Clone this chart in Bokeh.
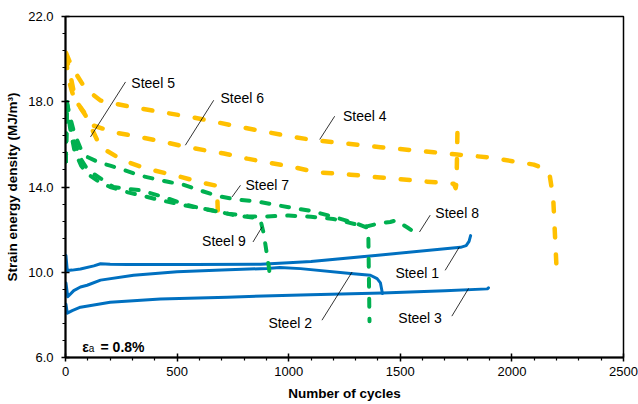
from bokeh.plotting import figure
from bokeh.models import FixedTicker, NumeralTickFormatter, Range1d
from bokeh.core.properties import value
from bokeh.embed import file_html
from bokeh.resources import INLINE

FONT = "Liberation Sans"

# ---------------- data ----------------
x_ticks = [0, 500, 1000, 1500, 2000, 2500]
x_minor = [100, 200, 300, 400, 600, 700, 800, 900, 1100, 1200, 1300, 1400,
           1600, 1700, 1800, 1900, 2100, 2200, 2300, 2400]
y_ticks = [6, 10, 14, 18, 22]
y_minor = [6.8, 7.6, 8.4, 9.2, 10.8, 11.6, 12.4, 13.2, 14.8, 15.6, 16.4, 17.2,
           18.8, 19.6, 20.4, 21.2]

steel1_x = [2, 8, 30, 67, 127, 157, 200, 276, 575, 874, 1000, 1100, 1400, 1770, 1795, 1808, 1815]
steel1_y = [10.78, 10.08, 10.1, 10.15, 10.3, 10.4, 10.37, 10.36, 10.36, 10.38, 10.44, 10.5, 10.8, 11.17, 11.25, 11.45, 11.72]

steel2_x = [2, 10, 37, 67, 97, 157, 305, 500, 700, 903, 960, 1053, 1277, 1366, 1396, 1411, 1420]
steel2_y = [9.5, 8.85, 9.14, 9.31, 9.39, 9.63, 9.86, 10.02, 10.1, 10.18, 10.22, 10.17, 9.94, 9.86, 9.7, 9.5, 9.0]

steel3_x = [2, 8, 30, 67, 200, 425, 725, 1097, 1420, 1700, 1890, 1895]
steel3_y = [8.5, 8.08, 8.2, 8.36, 8.59, 8.75, 8.83, 8.95, 9.03, 9.13, 9.22, 9.27]

steel4_x = [2, 30, 90, 157, 200, 336, 568, 792, 1022, 1128, 1411, 1650, 1755, 1889, 2098, 2150, 2170, 2185, 2200]
steel4_y = [20.3, 19.6, 18.6, 18.06, 17.95, 17.68, 17.27, 16.8, 16.34, 16.18, 15.87, 15.63, 15.52, 15.4, 15.05, 14.85, 14.5, 13.5, 10.2]

steel5_x = [2, 15, 37, 90, 157, 260, 366, 493, 605, 672, 680, 684]
steel5_y = [20.0, 19.0, 18.2, 17.35, 15.87, 15.24, 14.85, 14.54, 14.22, 14.07, 13.6, 12.33]

steel6_x = [2, 15, 45, 126, 216, 336, 448, 545, 710, 814, 1022, 1120, 1277, 1396, 1620, 1740, 1748, 1752, 1756]
steel6_y = [20.2, 19.6, 18.06, 16.88, 16.57, 16.34, 16.1, 15.87, 15.57, 15.33, 14.93, 14.7, 14.58, 14.46, 14.25, 14.15, 13.95, 14.2, 16.6]

steel7_x = [2, 6, 20, 40, 70, 100, 150, 200, 270, 340, 400, 470, 530, 600, 680, 760, 870, 1000, 1100, 1200, 1300, 1350, 1357, 1362]
steel7_y = [15.2, 18.0, 17.3, 16.5, 15.75, 15.4, 15.15, 15.0, 14.77, 14.52, 14.38, 14.22, 14.1, 13.85, 13.58, 13.42, 13.3, 13.05, 12.88, 12.6, 12.3, 12.1, 11.6, 7.7]

steel8_x = [2, 6, 20, 40, 70, 100, 150, 215, 280, 336, 440, 530, 605, 730, 820, 900, 1000, 1100, 1200, 1300, 1350, 1400, 1455, 1480, 1500, 1532, 1560, 1590]
steel8_y = [15.2, 18.0, 17.0, 16.1, 15.3, 14.8, 14.45, 14.0, 13.9, 13.85, 13.53, 13.2, 13.0, 12.75, 12.62, 12.62, 12.66, 12.6, 12.5, 12.25, 12.15, 12.28, 12.36, 12.43, 12.3, 12.1, 11.9, 11.73]

steel9_x = [2, 6, 20, 40, 70, 100, 150, 200, 280, 340, 425, 567, 657, 754, 851, 874, 888, 911, 918]
steel9_y = [15.2, 18.0, 16.8, 15.7, 15.0, 14.6, 14.25, 14.0, 13.75, 13.6, 13.38, 13.07, 12.91, 12.68, 12.55, 12.43, 11.82, 10.25, 9.63]

label_text = ["Steel 1", "Steel 2", "Steel 3", "Steel 4", "Steel 5", "Steel 6", "Steel 7", "Steel 8", "Steel 9"]
label_x = [1478, 909, 1491, 1243, 295, 694, 806, 1657, 612]
label_y = [9.95, 7.61, 7.85, 17.32, 18.87, 18.17, 14.08, 12.77, 11.45]

# leader lines from label to curve
lead_x0 = [1701, 1149, 1731, 1206, 269, 664, 784, 1634, 840]
lead_y0 = [10.09, 7.75, 7.94, 17.32, 18.93, 18.07, 14.08, 12.68, 11.42]
lead_x1 = [1765, 1284, 1806, 1139, 112, 537, 746, 1586, 881]
lead_y1 = [11.19, 10.01, 9.24, 16.23, 16.35, 15.96, 13.53, 11.89, 12.13]

BLUE = "#0070C0"
GOLD = "#FFC000"
GREEN = "#00B050"

# ---------------- figure ----------------
p = figure(width=638, height=404, x_range=Range1d(0, 2500), y_range=Range1d(6, 22),
           output_backend="svg", toolbar_location=None,
           min_border_left=65, min_border_right=15, min_border_top=16, min_border_bottom=47)
p.background_fill_color = "white"
p.border_fill_color = "white"
p.xgrid.visible = False
p.ygrid.visible = False
p.outline_line_color = "black"
p.outline_line_width = 1.5
p.outline_line_alpha = 1.0

p.xaxis.ticker = FixedTicker(ticks=x_ticks, minor_ticks=x_minor)
p.yaxis.ticker = FixedTicker(ticks=y_ticks, minor_ticks=y_minor)
p.xaxis.formatter = NumeralTickFormatter(format="0")
p.yaxis.formatter = NumeralTickFormatter(format="0.0")

for ax in (p.xaxis[0], p.yaxis[0]):
    ax.axis_line_color = "black"
    ax.axis_line_width = 2
    ax.major_tick_line_color = "black"
    ax.major_tick_line_width = 1.5
    ax.minor_tick_line_color = "black"
    ax.minor_tick_line_width = 1.2
    ax.major_tick_in = 4
    ax.major_tick_out = 4
    ax.minor_tick_in = 0
    ax.minor_tick_out = 3
    ax.major_label_text_font = FONT
    ax.major_label_text_font_size = "13px"
    ax.major_label_text_color = "black"
    ax.axis_label_text_font = FONT
    ax.axis_label_text_font_size = "13.5px"
    ax.axis_label_text_font_style = "bold"
    ax.axis_label_text_color = "black"

p.xaxis.major_label_standoff = 5
p.xaxis.axis_label_standoff = 7
p.yaxis.major_label_standoff = 8
p.yaxis.axis_label_standoff = 5
p.xaxis.axis_label = "Number of cycles"
p.yaxis.axis_label = "Strain energy density (MJ/m³)"

solid = dict(line_width=3, line_cap="round", line_join="round")
gold_dash = dict(line_width=4.5, line_dash="9 17", line_cap="round", line_join="round")
green_dash = dict(line_width=4, line_dash="8 12", line_cap="round", line_join="round")

p.line(steel1_x, steel1_y, line_color=BLUE, **solid)
p.line(steel2_x, steel2_y, line_color=BLUE, **solid)
p.line(steel3_x, steel3_y, line_color=BLUE, **solid)
p.line(steel4_x, steel4_y, line_color=GOLD, **gold_dash)
p.line(steel5_x, steel5_y, line_color=GOLD, **gold_dash)
p.line(steel6_x, steel6_y, line_color=GOLD, **gold_dash)
p.line(steel7_x, steel7_y, line_color=GREEN, **green_dash)
p.line(steel8_x, steel8_y, line_color=GREEN, **green_dash)
p.line(steel9_x, steel9_y, line_color=GREEN, **green_dash)

p.segment(x0=lead_x0, y0=lead_y0, x1=lead_x1, y1=lead_y1, line_color="black", line_width=0.8)

p.text(x=label_x, y=label_y, text=label_text, text_font=value(FONT), text_font_size="14px",
       text_align="left", text_baseline="middle", text_color="black")

# strain amplitude annotation: epsilon with subscript a
p.text(x=[75], y=[6.5], text=["ε"], text_font=value(FONT), text_font_size="14px",
       text_font_style="bold", text_align="left", text_baseline="alphabetic", text_color="black")
p.text(x=[104], y=[6.42], text=["a"], text_font=value(FONT), text_font_size="10px",
       text_align="left", text_baseline="alphabetic", text_color="black")
p.text(x=[157], y=[6.5], text=["= 0.8%"], text_font=value(FONT), text_font_size="14px",
       text_font_style="bold", text_align="left", text_baseline="alphabetic", text_color="black")

open("out.html", "w").write(file_html(p, INLINE))
